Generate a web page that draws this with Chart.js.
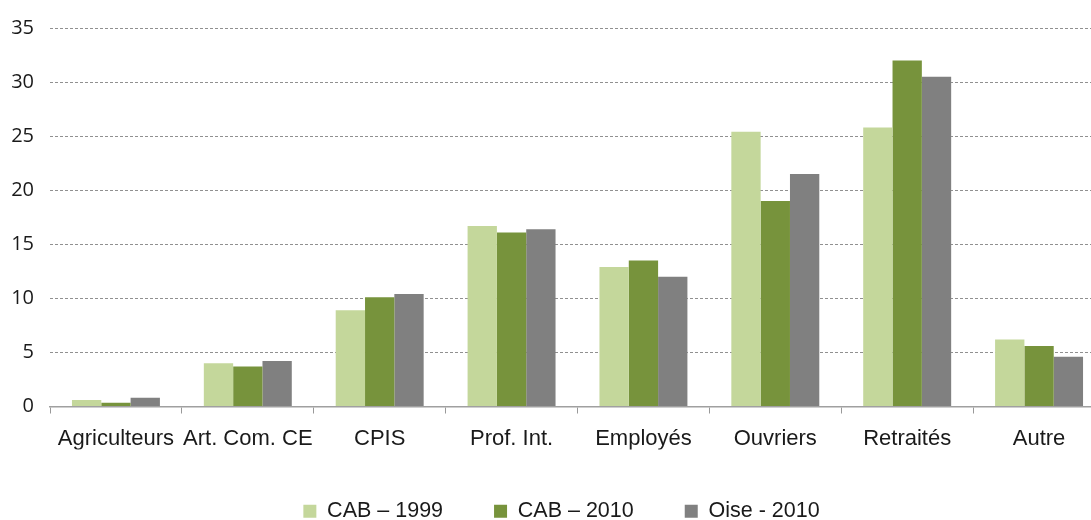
<!DOCTYPE html>
<html lang="fr">
<head>
<meta charset="utf-8">
<script src="https://cdn.jsdelivr.net/npm/chart.js@4"></script>
<style>
  html,body{margin:0;padding:0;background:#fff;overflow:hidden;}
  #wrap{position:absolute;left:0;top:0;width:1110px;height:532px;}
</style>
</head>
<body>
<div id="wrap"><canvas id="cs"></canvas></div>
<script>
// Catégories socio-professionnelles (%)
const categories = ['Agriculteurs','Art. Com. CE','CPIS','Prof. Int.','Employés','Ouvriers','Retraités','Autre'];
const cab1999 = [0.6, 4.0, 8.9, 16.7, 12.9, 25.4, 25.8, 6.2];
const cab2010 = [0.35, 3.7, 10.1, 16.1, 13.5, 19.0, 32.0, 5.6];
const oise2010 = [0.8, 4.2, 10.4, 16.4, 12.0, 21.5, 30.5, 4.6];
const seriesNames = ['CAB – 1999','CAB – 2010','Oise - 2010'];
const yTicks = [0,5,10,15,20,25,30,35];

const colors = ['#c4d79b','#77933c','#808080'];
const txt = '#1a1a1a';
const sans = '"Liberation Sans", Arial, sans-serif';

const ds = [cab1999, cab2010, oise2010].map((d,i)=>({
  label: seriesNames[i], data: d, backgroundColor: colors[i], borderWidth: 0,
  barPercentage: 1, categoryPercentage: 0.667
}));

// nudge the legend a little to the right of the canvas centre
const legendShift = {
  id: 'legendShift',
  afterLayout(chart) {
    const lg = chart.legend;
    if (lg) { lg.left += 9; lg.right += 9; }
  }
};

new Chart(document.getElementById('cs'), {
  type: 'bar',
  data: { labels: categories, datasets: ds },
  plugins: [legendShift],
  options: {
    responsive: true, maintainAspectRatio: false, animation: false,
    layout: { padding: { top: 28, right: 5, left: 0, bottom: 0 } },
    plugins: {
      tooltip: { enabled: false },
      legend: {
        position: 'bottom',
        labels: {
          color: txt, boxWidth: 13, boxHeight: 13, padding: 51,
          font: { family: sans, size: 21.5 }
        }
      }
    },
    scales: {
      x: {
        grid: { drawOnChartArea: false, drawTicks: true, tickLength: 7, color: '#999', offset: true },
        border: { display: true, color: '#a0a0a0', width: 1.5 },
        ticks: { color: txt, padding: 12, maxRotation: 0, autoSkip: false,
          font: { family: sans, size: 22 } },
        afterFit: s => { s.height = 43; }
      },
      y: {
        min: 0, max: 35,
        afterBuildTicks: s => { s.ticks = yTicks.map(v=>({value:v})); },
        grid: { color: '#909090', lineWidth: 1, drawTicks: false },
        border: { display: false, dash: [3,2] },
        ticks: { color: txt, padding: 16,
          font: { family: '"Open Sans", sans-serif', size: 20 } },
        afterFit: s => { s.width = 50; }
      }
    }
  }
});
</script>
</body>
</html>
